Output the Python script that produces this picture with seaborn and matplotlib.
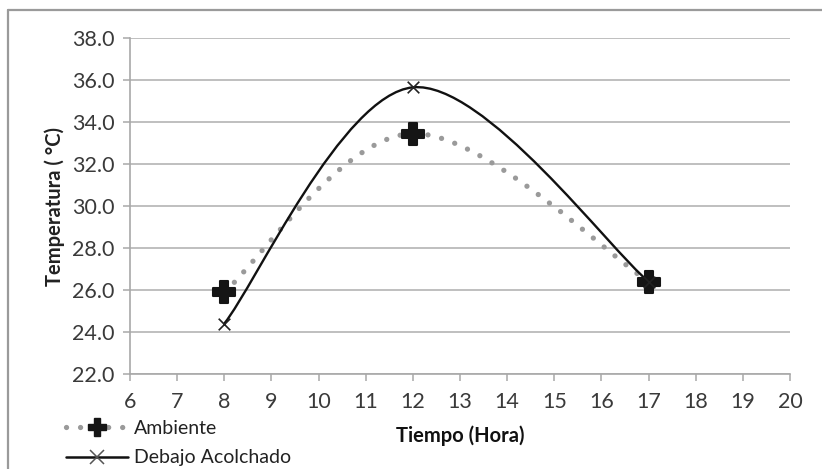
import numpy as np
import pandas as pd
import matplotlib.pyplot as plt
import seaborn as sns
from matplotlib.path import Path
from matplotlib.patches import PathPatch
from matplotlib.lines import Line2D

# data
horas = [8, 12, 17]
ambiente = [25.9, 33.45, 26.4]
acolchado = [24.4, 35.65, 26.4]

sns.set_theme(style="white")
plt.rcParams["font.family"] = ["Lato", "DejaVu Sans"]

df = pd.DataFrame({"Hora": horas, "Ambiente": ambiente, "Debajo Acolchado": acolchado})


def smooth_path(xs, ys):
    # Excel style smoothed line: cubic bezier segments, catmull-rom control points
    pts = np.column_stack([xs, ys]).astype(float)
    n = len(pts)
    verts = [pts[0]]
    codes = [Path.MOVETO]
    for i in range(n - 1):
        p0 = pts[max(i - 1, 0)]
        p1 = pts[i]
        p2 = pts[i + 1]
        p3 = pts[min(i + 2, n - 1)]
        c1 = p1 + (p2 - p0) / 6.0
        c2 = p2 - (p3 - p1) / 6.0
        verts += [c1, c2, p2]
        codes += [Path.CURVE4] * 3
    return Path(verts, codes)


fig = plt.figure(figsize=(8.22, 4.69), dpi=100)
ax = fig.add_axes([130 / 822, 1 - 374 / 469, 660 / 822, 336 / 469])

# smoothed lines
dots = (0, (0.01, 2.65))
ax.add_patch(PathPatch(smooth_path(df["Hora"], df["Ambiente"]), fill=False,
                       edgecolor="#9a9a9a", lw=3.8, linestyle=dots,
                       capstyle="round", zorder=3))
ax.add_patch(PathPatch(smooth_path(df["Hora"], df["Debajo Acolchado"]), fill=False,
                       edgecolor="#111111", lw=1.7, zorder=4))

sns.scatterplot(data=df, x="Hora", y="Ambiente", marker="P", s=260, color="#151515",
                edgecolor="#151515", linewidth=1.5, ax=ax, zorder=5)
sns.scatterplot(data=df, x="Hora", y="Debajo Acolchado", marker="x", s=70,
                color="#222222", linewidth=1.2, ax=ax, zorder=6)

ax.set_xlim(6, 20)
ax.set_ylim(22, 38)
ax.set_xticks(range(6, 21))
ax.set_yticks(np.arange(22, 38.1, 2))
ax.set_yticklabels([f"{v:.1f}" for v in np.arange(22, 38.1, 2)])
ax.yaxis.grid(True, color="#b4b4b4", lw=1.2)
ax.set_axisbelow(True)
for s in ["top", "right"]:
    ax.spines[s].set_visible(False)
for s in ["left", "bottom"]:
    ax.spines[s].set_color("#a8a8a8")
    ax.spines[s].set_linewidth(1.2)
ax.tick_params(axis="both", which="both", direction="out", length=5, width=1.1,
               color="#a8a8a8", labelsize=15.5, labelcolor="#3a3a3a")
ax.tick_params(axis="x", pad=8)
ax.tick_params(axis="y", pad=6)
ax.tick_params(left=True, bottom=True)

ax.set_xlabel("")
ax.set_ylabel("")
fig.text(460 / 822, 1 - 436 / 469, "Tiempo (Hora)", ha="center", va="center",
         fontsize=14.5, fontweight="bold", color="#111111")
fig.text(55 / 822, 1 - 206 / 469, "Temperatura ( °C)", ha="center", va="center",
         rotation=90, fontsize=14.5, fontweight="bold", color="#222222")

handles = [
    Line2D([], [], color="#9a9a9a", lw=3.8, linestyle=dots,
           dash_capstyle="round", marker="P", markersize=13,
           markerfacecolor="#151515", markeredgecolor="#151515"),
    Line2D([], [], color="#111111", lw=1.8, marker="x", markersize=10,
           markeredgecolor="#555555", markeredgewidth=1.1),
]
fig.legend(handles, ["Ambiente", "Debajo Acolchado"], loc="upper left",
           bbox_to_anchor=(56 / 822, 1 - 410 / 469), frameon=False,
           fontsize=14, handlelength=3.2, handletextpad=0.3, labelspacing=0.65,
           borderpad=0, labelcolor="#222222")

# outer chart frame
fig.add_artist(Line2D([8 / 822, 1], [1 - 10 / 469] * 2, transform=fig.transFigure,
                      color="#9a9a9a", lw=1.6))
fig.add_artist(Line2D([8 / 822] * 2, [0, 1 - 10 / 469], transform=fig.transFigure,
                      color="#9a9a9a", lw=1.6))

fig.savefig("out.png", dpi=100)
